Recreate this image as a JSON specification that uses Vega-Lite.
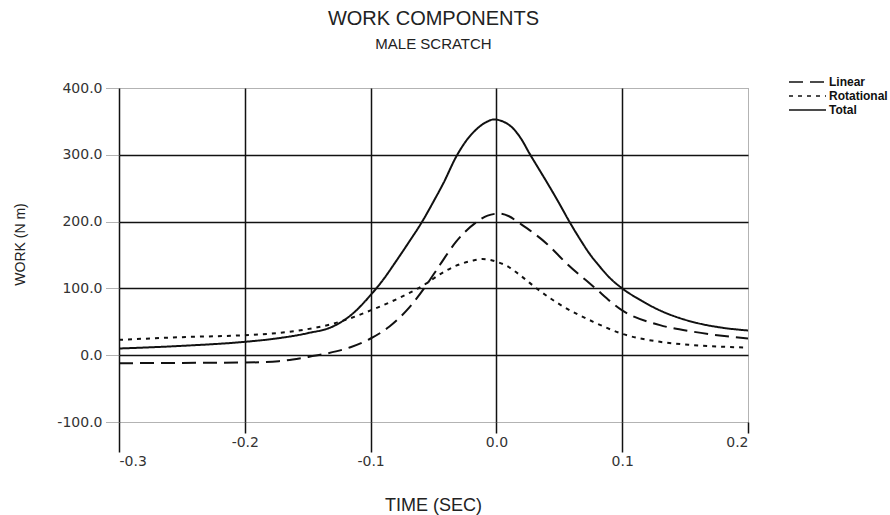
{
  "$schema": "https://vega.github.io/schema/vega-lite/v6.json",
  "width": 629,
  "height": 334,
  "autosize": {"type": "none"},
  "padding": {"left": 119, "top": 88, "right": 142, "bottom": 93},
  "background": "white",
  "title": {
    "text": "WORK COMPONENTS",
    "subtitle": "MALE SCRATCH",
    "font": "Liberation Sans",
    "fontSize": 20,
    "fontWeight": "normal",
    "color": "#222",
    "subtitleFont": "Liberation Sans",
    "subtitleFontSize": 15,
    "subtitleColor": "#222",
    "subtitlePadding": 8,
    "offset": 24,
    "anchor": "middle"
  },
  "config": {
    "view": {"stroke": "#666", "strokeDash": [1, 1], "strokeWidth": 1},
    "font": "Liberation Sans"
  },
  "data": {
    "values": [
      {"t": -0.3, "s": "Total", "w": 10},
      {"t": -0.25, "s": "Total", "w": 14},
      {"t": -0.2, "s": "Total", "w": 20},
      {"t": -0.175, "s": "Total", "w": 25},
      {"t": -0.15, "s": "Total", "w": 33},
      {"t": -0.13, "s": "Total", "w": 43},
      {"t": -0.115, "s": "Total", "w": 61},
      {"t": -0.1, "s": "Total", "w": 90},
      {"t": -0.09, "s": "Total", "w": 113},
      {"t": -0.08, "s": "Total", "w": 140},
      {"t": -0.07, "s": "Total", "w": 168},
      {"t": -0.059, "s": "Total", "w": 200},
      {"t": -0.05, "s": "Total", "w": 230},
      {"t": -0.042, "s": "Total", "w": 258},
      {"t": -0.032, "s": "Total", "w": 297},
      {"t": -0.024, "s": "Total", "w": 321},
      {"t": -0.016, "s": "Total", "w": 338},
      {"t": -0.008, "s": "Total", "w": 349},
      {"t": -0.002, "s": "Total", "w": 353},
      {"t": 0.005, "s": "Total", "w": 350},
      {"t": 0.013, "s": "Total", "w": 340},
      {"t": 0.02, "s": "Total", "w": 323},
      {"t": 0.026, "s": "Total", "w": 303},
      {"t": 0.034, "s": "Total", "w": 278},
      {"t": 0.042, "s": "Total", "w": 253},
      {"t": 0.05, "s": "Total", "w": 227},
      {"t": 0.058, "s": "Total", "w": 200},
      {"t": 0.066, "s": "Total", "w": 175},
      {"t": 0.074, "s": "Total", "w": 152},
      {"t": 0.082, "s": "Total", "w": 133},
      {"t": 0.09, "s": "Total", "w": 116},
      {"t": 0.1, "s": "Total", "w": 100},
      {"t": 0.115, "s": "Total", "w": 82},
      {"t": 0.13, "s": "Total", "w": 67},
      {"t": 0.145, "s": "Total", "w": 56},
      {"t": 0.16, "s": "Total", "w": 48},
      {"t": 0.18, "s": "Total", "w": 41},
      {"t": 0.2, "s": "Total", "w": 37},
      {"t": -0.3, "s": "Linear", "w": -12},
      {"t": -0.25, "s": "Linear", "w": -11.5},
      {"t": -0.2, "s": "Linear", "w": -11},
      {"t": -0.173, "s": "Linear", "w": -9},
      {"t": -0.151, "s": "Linear", "w": -3},
      {"t": -0.135, "s": "Linear", "w": 2.5},
      {"t": -0.116, "s": "Linear", "w": 12},
      {"t": -0.1, "s": "Linear", "w": 25},
      {"t": -0.085, "s": "Linear", "w": 43},
      {"t": -0.069, "s": "Linear", "w": 72},
      {"t": -0.056, "s": "Linear", "w": 104},
      {"t": -0.045, "s": "Linear", "w": 135},
      {"t": -0.032, "s": "Linear", "w": 170},
      {"t": -0.016, "s": "Linear", "w": 199},
      {"t": -0.007, "s": "Linear", "w": 209},
      {"t": 0.002, "s": "Linear", "w": 212},
      {"t": 0.01, "s": "Linear", "w": 208},
      {"t": 0.018, "s": "Linear", "w": 198},
      {"t": 0.04, "s": "Linear", "w": 167},
      {"t": 0.056, "s": "Linear", "w": 137},
      {"t": 0.077, "s": "Linear", "w": 103},
      {"t": 0.1, "s": "Linear", "w": 67},
      {"t": 0.13, "s": "Linear", "w": 45},
      {"t": 0.157, "s": "Linear", "w": 35},
      {"t": 0.2, "s": "Linear", "w": 25},
      {"t": -0.3, "s": "Rotational", "w": 23},
      {"t": -0.25, "s": "Rotational", "w": 27},
      {"t": -0.2, "s": "Rotational", "w": 30},
      {"t": -0.175, "s": "Rotational", "w": 33},
      {"t": -0.157, "s": "Rotational", "w": 37},
      {"t": -0.13, "s": "Rotational", "w": 47},
      {"t": -0.1, "s": "Rotational", "w": 67},
      {"t": -0.077, "s": "Rotational", "w": 86},
      {"t": -0.056, "s": "Rotational", "w": 107},
      {"t": -0.045, "s": "Rotational", "w": 121},
      {"t": -0.032, "s": "Rotational", "w": 134},
      {"t": -0.02, "s": "Rotational", "w": 141},
      {"t": -0.011, "s": "Rotational", "w": 144},
      {"t": 0.0, "s": "Rotational", "w": 140},
      {"t": 0.009, "s": "Rotational", "w": 133},
      {"t": 0.018, "s": "Rotational", "w": 121},
      {"t": 0.034, "s": "Rotational", "w": 97},
      {"t": 0.053, "s": "Rotational", "w": 73},
      {"t": 0.077, "s": "Rotational", "w": 50},
      {"t": 0.1, "s": "Rotational", "w": 32},
      {"t": 0.13, "s": "Rotational", "w": 20},
      {"t": 0.157, "s": "Rotational", "w": 15},
      {"t": 0.2, "s": "Rotational", "w": 11.5}
    ]
  },
  "mark": {"type": "line", "interpolate": "monotone", "strokeWidth": 2, "color": "#111", "clip": true},
  "encoding": {
    "x": {
      "field": "t",
      "type": "quantitative",
      "scale": {"domain": [-0.3, 0.2], "nice": false, "zero": false},
      "axis": {
        "values": [-0.3, -0.2, -0.1, 0, 0.1, 0.2],
        "labelExpr": "datum.value < 0 ? '-' + format(-datum.value, '.1f') : format(datum.value, '.1f')",
        "labelFont": "DejaVu Sans",
        "labelFontSize": 14,
        "labelColor": "#333",
        "labelPadding": 2,
        "labelBaseline": "top",
        "tickSize": {"condition": {"test": "abs(round(datum.value * 10)) % 2 == 1", "value": 30}, "value": 11},
        "tickColor": "#111",
        "tickWidth": 1.5,
        "domain": false,
        "grid": true,
        "gridColor": "#111",
        "gridWidth": 1.5,
        "gridOpacity": {"condition": {"test": "datum.value > 0.15", "value": 0}, "value": 1},
        "title": "TIME (SEC)",
        "titleFont": "Liberation Sans",
        "titleFontSize": 18,
        "titleFontWeight": "normal",
        "titleColor": "#222",
        "titleX": 314,
        "titleY": 83,
        "titleBaseline": "middle",
        "titleAlign": "center"
      }
    },
    "y": {
      "field": "w",
      "type": "quantitative",
      "scale": {"domain": [-100, 400], "nice": false, "zero": false},
      "axis": {
        "values": [-100, 0, 100, 200, 300, 400],
        "labelExpr": "datum.value < 0 ? '-' + format(-datum.value, '.1f') : format(datum.value, '.1f')",
        "labelFont": "DejaVu Sans",
        "labelFontSize": 14,
        "labelColor": "#333",
        "labelPadding": 4,
        "tickSize": 13,
        "tickColor": "#666",
        "tickDash": [1, 1],
        "tickWidth": 1,
        "domain": false,
        "grid": true,
        "gridColor": "#111",
        "gridWidth": 1.5,
        "gridOpacity": {"condition": {"test": "datum.value > 350 || datum.value < -50", "value": 0}, "value": 1},
        "title": "WORK (N m)",
        "titleFont": "Liberation Sans",
        "titleFontSize": 14,
        "titleFontWeight": "normal",
        "titleColor": "#222",
        "titleX": -99,
        "titleY": 156,
        "titleAngle": -90,
        "titleBaseline": "middle",
        "titleAlign": "center"
      }
    },
    "strokeDash": {
      "field": "s",
      "type": "nominal",
      "scale": {"domain": ["Linear", "Rotational", "Total"], "range": [[14, 7], [4, 5], [1, 0]]},
      "legend": {
        "title": null,
        "orient": "none",
        "legendX": 682.5,
        "legendY": -12,
        "symbolType": "M-3.7,0H3.7",
        "symbolSize": 100,
        "symbolStrokeWidth": 1.5,
        "symbolStrokeColor": "#111",
        "labelFont": "Liberation Sans",
        "labelFontSize": 12,
        "labelFontWeight": "bold",
        "labelColor": "#111",
        "labelOffset": 15.5,
        "rowPadding": 2
      }
    }
  }
}
